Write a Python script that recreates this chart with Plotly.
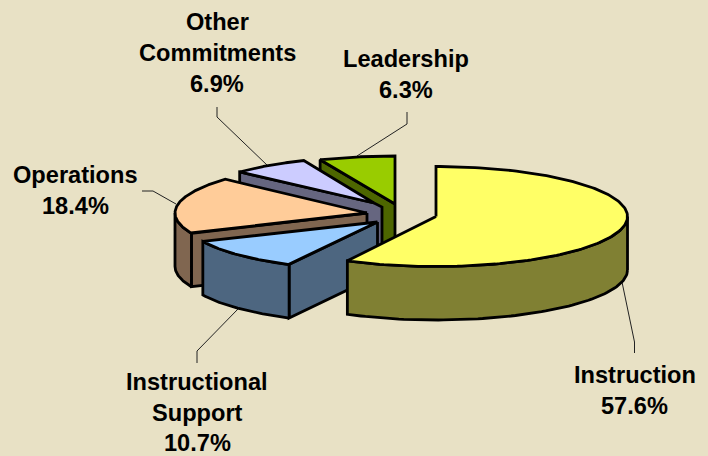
import numpy as np
import plotly.graph_objects as go

# --- data ---
categories = ["Instruction", "Instructional Support", "Operations", "Other Commitments", "Leadership"]
shares = [57.6, 10.7, 18.4, 6.9, 6.3]
label_lines = [["Instruction", "57.6%"],
               ["Instructional", "Support", "10.7%"],
               ["Operations", "18.4%"],
               ["Other", "Commitments", "6.9%"],
               ["Leadership", "6.3%"]]

# --- style ---
top_colors = ["#FFFF66", "#99CCFF", "#FFCC99", "#CCCCFF", "#99CC00"]
side_colors = ["#808033", "#4D6680", "#806650", "#666680", "#4D6600"]
background = "#E8E1C5"
font = "Liberation Sans"
font_size = 23.6
line_gap = 31
depth = 53.5
# exploded slice geometry: apex x, apex y, rx, ry
geometry = [(436, 216.5, 191.5, 50), (377.5, 222, 191, 48), (367, 213, 192, 50),
            (374, 203, 182, 46), (395, 204, 194, 48)]
label_pos = [(634.5, 375), (197, 382), (75, 175), (217, 22), (406, 59)]
label_gaps = [31, 30.5, 31, 31, 31]
leaders = [[(622, 282), (634.5, 342), (634.5, 353)],
           [(238, 309), (197, 351), (197, 363)],
           [(176, 204), (153, 191), (142, 191)],
           [(268, 166), (217, 117), (217, 107)],
           [(357, 156), (407, 124), (407, 112)]]
edge = 2.8

fig = go.Figure()


def poly(xs, ys, color):
    fig.add_trace(go.Scatter(x=list(xs), y=list(ys), mode="lines", fill="toself", fillcolor=color,
                             line=dict(color="black", width=edge, shape="linear"),
                             hoverinfo="skip", showlegend=False))


for pts in leaders:
    fig.add_trace(go.Scatter(x=[p[0] for p in pts], y=[p[1] for p in pts], mode="lines",
                             line=dict(color="#222222", width=1), hoverinfo="skip", showlegend=False))

# angles clockwise from 12 o'clock, derived from the shares
total = sum(shares)
edges = np.cumsum([0] + shares) / total * 2 * np.pi

# painter's order: back slices first
for i in [4, 3, 2, 1, 0]:
    cx, cy, rx, ry = geometry[i]
    t0, t1 = edges[i], edges[i + 1]
    px = lambda t: cx + rx * np.sin(t)
    py = lambda t: cy - ry * np.cos(t)

    # cut face at the starting angle (visible for all but the large slice)
    if i != 0:
        fx = [cx, px(t0), px(t0), cx, cx]
        fy = [cy, py(t0), py(t0) + depth, cy + depth, cy]
        if categories[i] == "Other Commitments":
            # small perspective sliver at the inner end of this face
            fx = [cx, px(t0), px(t0), cx + 8, cx + 8, cx]
            fy = [cy, py(t0), py(t0) + depth, cy + depth + 2, cy + 4, cy]
        poly(fx, fy, side_colors[i])

    # outer wall: only the front half of the rim is visible
    a0, a1 = max(t0, np.pi / 2), min(t1, 3 * np.pi / 2)
    if a1 > a0:
        t = np.linspace(a0, a1, 80)
        poly(np.r_[px(t), px(t[::-1]), px(t[0])],
             np.r_[py(t) + depth, py(t[::-1]), py(t[0]) + depth], side_colors[i])

    # top face
    t = np.linspace(t0, t1, 160)
    poly(np.r_[cx, px(t), cx], np.r_[cy, py(t), cy], top_colors[i])

for lines, (lx, ly), gap in zip(label_lines, label_pos, label_gaps):
    for k, text in enumerate(lines):
        fig.add_annotation(x=lx, y=ly + k * gap, text=f"<b>{text}</b>", showarrow=False,
                           xanchor="center", yanchor="middle",
                           font=dict(family=font, size=font_size, color="black"))

fig.update_layout(width=708, height=456, margin=dict(l=0, r=0, t=0, b=0),
                  paper_bgcolor=background, plot_bgcolor=background, showlegend=False,
                  xaxis=dict(range=[0, 708], visible=False, fixedrange=True),
                  yaxis=dict(range=[456, 0], visible=False, fixedrange=True))

fig.write_html("out.html", post_script="document.body.style.margin='0';",
               config={"displayModeBar": False})
